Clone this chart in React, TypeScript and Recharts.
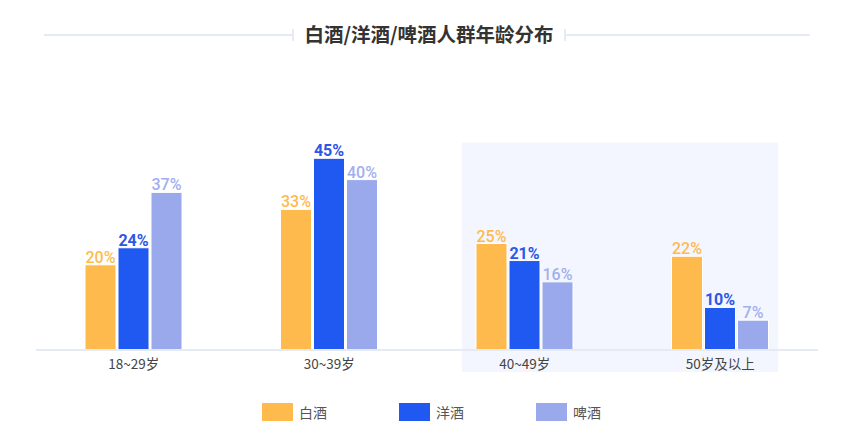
import { BarChart, Bar, XAxis, YAxis, LabelList, ReferenceArea } from "recharts"

const AGES = ["18~29岁", "30~39岁", "40~49岁", "50岁及以上"]
const BAIJIU = [20, 33, 25, 22]
const YANGJIU = [24, 45, 21, 10]
const PIJIU = [37, 40, 16, 7]

const SERIES = [
  { key: "baijiu", name: "白酒", color: "#FFBA4E", label: "#FFBA4E", weight: 500 },
  { key: "yangjiu", name: "洋酒", color: "#1F59F2", label: "#2C57E8", weight: 700 },
  { key: "pijiu", name: "啤酒", color: "#99A9EC", label: "#A2AFEE", weight: 500 },
]

const data = AGES.map((age, i) => ({
  age,
  baijiu: BAIJIU[i],
  yangjiu: YANGJIU[i],
  pijiu: PIJIU[i],
}))

const FONT = "Roboto, 'Noto Sans CJK SC', sans-serif"
const CJK = "'Noto Sans CJK SC', sans-serif"
const LINE = "#e6eaf3"

function Highlight(props: any) {
  const { x, y, width, height } = props
  // the shaded box sits a bit inside the two bands and runs under the tick labels
  return <rect x={x + 35} y={y} width={width - 75} height={height + 22} fill="#f3f6fe" />
}

export default function App() {
  return (
    <div style={{ position: "absolute", left: 0, top: 0, width: 865, height: 436, background: "#fff", fontFamily: FONT }}>
      <div style={{ position: "absolute", left: 44, top: 34, width: 249, height: 2, background: LINE }} />
      <div style={{ position: "absolute", left: 292, top: 29, width: 2, height: 12, background: LINE }} />
      <div style={{ position: "absolute", left: 566, top: 34, width: 244, height: 2, background: LINE }} />
      <div style={{ position: "absolute", left: 564, top: 29, width: 2, height: 12, background: LINE }} />
      <div
        style={{
          position: "absolute",
          left: 294,
          width: 270,
          top: 20,
          textAlign: "center",
          fontSize: 19.5,
          fontWeight: 700,
          color: "#333",
          fontFamily: CJK,
          lineHeight: "28px",
        }}
      >
        白酒/洋酒/啤酒人群年龄分布
      </div>

      <div style={{ position: "absolute", left: 0, top: 0 }}>
        <BarChart
          width={865}
          height={436}
          data={data}
          margin={{ top: 137, right: 47, left: 36, bottom: 56 }}
          barSize={31}
          barGap={2}
        >
          <ReferenceArea
            x1="40~49岁"
            x2="50岁及以上"
            y1={0}
            y2={48.7}
            ifOverflow="visible"
            shape={<Highlight />}
          />
          <XAxis
            dataKey="age"
            tickLine={false}
            axisLine={{ stroke: LINE, strokeWidth: 2 }}
            tick={{ fontSize: 13.5, fill: "#444", fontFamily: CJK }}
            tickMargin={3}
          />
          <YAxis hide domain={[0, 50]} />
          {SERIES.map((s) => (
            <Bar key={s.key} dataKey={s.key} name={s.name} fill={s.color} stroke="#fff" strokeWidth={1} isAnimationActive={false}>
              <LabelList
                dataKey={s.key}
                position="top"
                offset={2}
                formatter={(v: any) => `${v}%`}
                style={{ fill: s.label, fontSize: 16, fontWeight: s.weight, fontFamily: FONT }}
              />
            </Bar>
          ))}
        </BarChart>
      </div>

      {SERIES.map((s, i) => (
        <div
          key={s.key}
          style={{
            position: "absolute",
            left: 262 + i * 137,
            top: 402,
            display: "flex",
            alignItems: "center",
            fontSize: 14,
            color: "#555",
            fontFamily: CJK,
          }}
        >
          <span style={{ display: "inline-block", width: 31, height: 18, background: s.color, marginRight: 6 }} />
          {s.name}
        </div>
      ))}
    </div>
  )
}
